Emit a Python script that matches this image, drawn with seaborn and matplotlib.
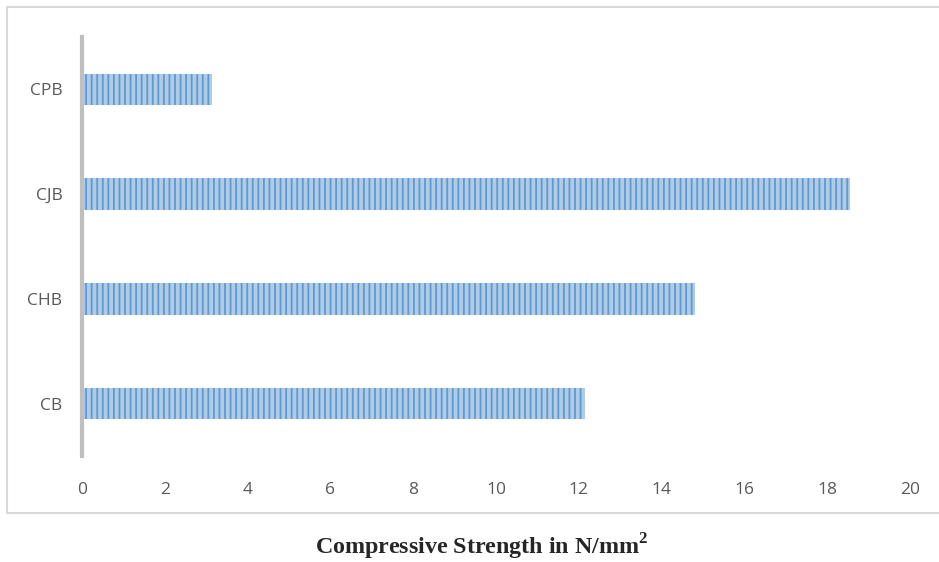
import pandas as pd
import numpy as np
import matplotlib.pyplot as plt
import seaborn as sns
from matplotlib.lines import Line2D

# bar chart of compressive strength by block type
blocks = ['CPB', 'CJB', 'CHB', 'CB']
strength = [3.15, 18.55, 14.8, 12.15]
xticks = [0, 2, 4, 6, 8, 10, 12, 14, 16, 18, 20]

df = pd.DataFrame({'Block': blocks, 'Strength': strength})

sns.set_style('white')
plt.rcParams['font.family'] = ['Open Sans', 'DejaVu Sans']
plt.rcParams['hatch.linewidth'] = 1.3
plt.rcParams['mathtext.fontset'] = 'custom'
plt.rcParams['mathtext.bf'] = 'Liberation Serif:bold'
plt.rcParams['mathtext.rm'] = 'Liberation Serif'

fig = plt.figure(figsize=(9.39, 5.62), dpi=100)
ax = fig.add_axes([82 / 939, 106 / 562, 828 / 939, 419 / 562])

sns.barplot(data=df, x='Strength', y='Block', orient='h', width=0.3,
            color='#A9CBEC', ax=ax)
for bar in ax.patches:
    bar.set_hatch('|||')
    bar.set_edgecolor('#5B9BD5')
    bar.set_linewidth(0)

ax.set_xlim(0, 20)
ax.set_ylim(3.5, -0.5)
ax.set_xticks(xticks)
ax.set_xticklabels([str(t) for t in xticks])
ax.set_xlabel('')
ax.set_ylabel('')
ax.tick_params(axis='both', length=0, labelsize=12.5, labelcolor='#595959')
ax.tick_params(axis='x', pad=19)
ax.tick_params(axis='y', pad=14)

for side in ['top', 'right', 'bottom']:
    ax.spines[side].set_visible(False)
ax.spines['left'].set_color('#BFBFBF')
ax.spines['left'].set_linewidth(3)
ax.spines['left'].set_zorder(5)

# outer chart border (open on the right)
x0, x1 = 7 / 939, 1.1
y0, y1 = 1 - 513 / 562, 1 - 7 / 562
fig.add_artist(Line2D([x0, x1], [y1, y1], transform=fig.transFigure,
                      color='#D9D9D9', lw=1.5))
fig.add_artist(Line2D([x0, x1], [y0, y0], transform=fig.transFigure,
                      color='#D9D9D9', lw=1.5))
fig.add_artist(Line2D([x0, x0], [y0, y1], transform=fig.transFigure,
                      color='#D9D9D9', lw=1.5))

fig.text(482 / 939, 0, r'Compressive Strength in N/mm$^\mathbf{2}$',
         ha='center', va='bottom', fontsize=17.3, fontweight='bold',
         family='Liberation Serif')

fig.savefig('out.png', dpi=100)
